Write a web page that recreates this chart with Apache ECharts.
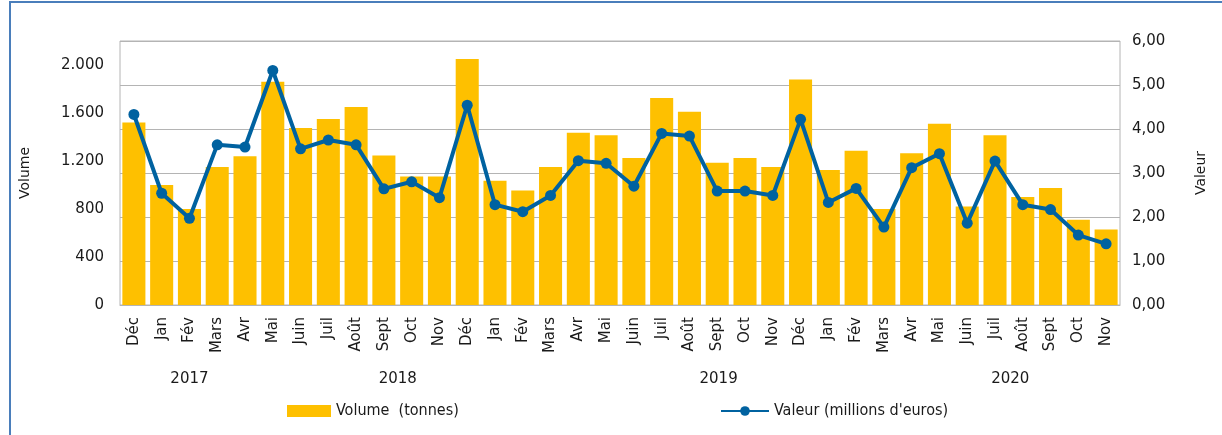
<!DOCTYPE html>
<html>
<head>
<meta charset="utf-8">
<script src="https://cdn.jsdelivr.net/npm/echarts@6/dist/echarts.min.js"></script>
<style>
  html, body { margin: 0; padding: 0; background: #fff; }
  #frame { position: absolute; left: 9px; top: 1px; width: 1230px; height: 450px;
           border-left: 2px solid #4a7ebb; border-top: 2px solid #4a7ebb; }
  #chart { position: absolute; left: 0; top: 0; width: 1222px; height: 435px; }
</style>
</head>
<body>
<div id="frame"></div>
<div id="chart"></div>
<script>
const months = ['Déc', 'Jan', 'Fév', 'Mars', 'Avr', 'Mai', 'Juin', 'Juil', 'Août', 'Sept', 'Oct', 'Nov',
    'Déc', 'Jan', 'Fév', 'Mars', 'Avr', 'Mai', 'Juin', 'Juil', 'Août', 'Sept', 'Oct', 'Nov',
    'Déc', 'Jan', 'Fév', 'Mars', 'Avr', 'Mai', 'Juin', 'Juil', 'Août', 'Sept', 'Oct', 'Nov'];

// volume en tonnes
const volume = [1520, 1000, 800, 1150, 1240, 1860, 1475, 1550, 1650, 1245, 1070, 1070,
    2050, 1035, 955, 1150, 1435, 1415, 1225, 1725, 1610, 1185, 1225, 1150,
    1880, 1125, 1285, 800, 1265, 1510, 820, 1415, 900, 975, 710, 630];

// valeur en millions d'euros
const valeur = [4.33, 2.54, 1.97, 3.64, 3.59, 5.33, 3.55, 3.75, 3.64, 2.64, 2.80, 2.44,
    4.54, 2.28, 2.12, 2.49, 3.28, 3.22, 2.70, 3.90, 3.84, 2.59, 2.59, 2.49,
    4.22, 2.33, 2.65, 1.77, 3.12, 3.44, 1.86, 3.27, 2.28, 2.17, 1.59, 1.39];

const years = ['2017', '2018', '2019', '2020'];
const yearPos = [2, 9.5, 21.05, 31.55];

const chart = echarts.init(document.getElementById('chart'));

const txt = '#1a1a1a';

chart.setOption({
    animation: false,
    grid: {
        left: 120, right: 102, top: 41, bottom: 130,
        show: true, borderColor: '#b4b4b4', borderWidth: 1
    },
    legend: [
        {
            data: [{ name: 'Volume  (tonnes)', icon: 'rect' }],
            left: 282, top: 398,
            itemWidth: 44, itemHeight: 12, itemGap: 5,
            textStyle: { fontFamily: 'DejaVu Sans Condensed', fontSize: 16, color: txt }
        },
        {
            data: ['Valeur (millions d\'euros)'],
            left: 715, top: 398,
            itemWidth: 48, itemHeight: 12, itemGap: 3,
            textStyle: { fontFamily: 'DejaVu Sans Condensed', fontSize: 16, color: txt }
        }
    ],
    xAxis: [
        {
            type: 'category',
            data: months,
            axisLine: { show: true, lineStyle: { color: '#b4b4b4' } },
            axisTick: { show: false },
            axisLabel: {
                rotate: 90, margin: 12, interval: 0,
                fontFamily: 'DejaVu Sans', fontSize: 15, color: txt
            }
        },
        {
            type: 'value',
            position: 'bottom',
            min: -0.5, max: 35.5,
            axisLine: { show: false },
            axisTick: { show: false },
            splitLine: { show: false },
            axisLabel: {
                customValues: yearPos,
                margin: 67,
                fontFamily: 'DejaVu Sans', fontSize: 15, color: txt,
                formatter: (v) => {
                    const i = yearPos.indexOf(v);
                    return i >= 0 ? years[i] : '';
                }
            }
        }
    ],
    yAxis: [
        {
            type: 'value',
            name: 'Volume',
            nameLocation: 'middle',
            nameGap: 88,
            nameRotate: 90,
            nameTextStyle: { fontFamily: 'DejaVu Sans', fontSize: 14, color: txt },
            min: 0, max: 2200, interval: 400,
            axisLine: { show: false },
            axisTick: { show: false },
            splitLine: { show: false },
            axisLabel: {
                margin: 16,
                fontFamily: 'DejaVu Sans', fontSize: 15, color: txt,
                formatter: (v) => v > 2000 ? '' : String(v).replace(/\B(?=(\d{3})+(?!\d))/g, '.')
            }
        },
        {
            type: 'value',
            name: 'Valeur',
            nameLocation: 'middle',
            nameGap: 74,
            nameRotate: 90,
            nameTextStyle: { fontFamily: 'DejaVu Sans', fontSize: 14, color: txt },
            min: 0, max: 6, interval: 1,
            axisLine: { show: false },
            axisTick: { show: false },
            splitLine: { show: true, lineStyle: { color: '#b4b4b4', width: 1 } },
            axisLabel: {
                margin: 12,
                fontFamily: 'DejaVu Sans', fontSize: 15, color: txt,
                formatter: (v) => v.toFixed(2).replace('.', ',')
            }
        }
    ],
    series: [
        {
            name: 'Volume  (tonnes)',
            type: 'bar',
            data: volume,
            yAxisIndex: 0,
            xAxisIndex: 0,
            barCategoryGap: '17%',
            itemStyle: { color: '#fec000' }
        },
        {
            name: 'Valeur (millions d\'euros)',
            type: 'line',
            data: valeur,
            yAxisIndex: 1,
            xAxisIndex: 0,
            symbol: 'circle',
            symbolSize: 11,
            lineStyle: { color: '#0062a0', width: 4 },
            itemStyle: { color: '#0062a0' }
        }
    ]
});
</script>
</body>
</html>
